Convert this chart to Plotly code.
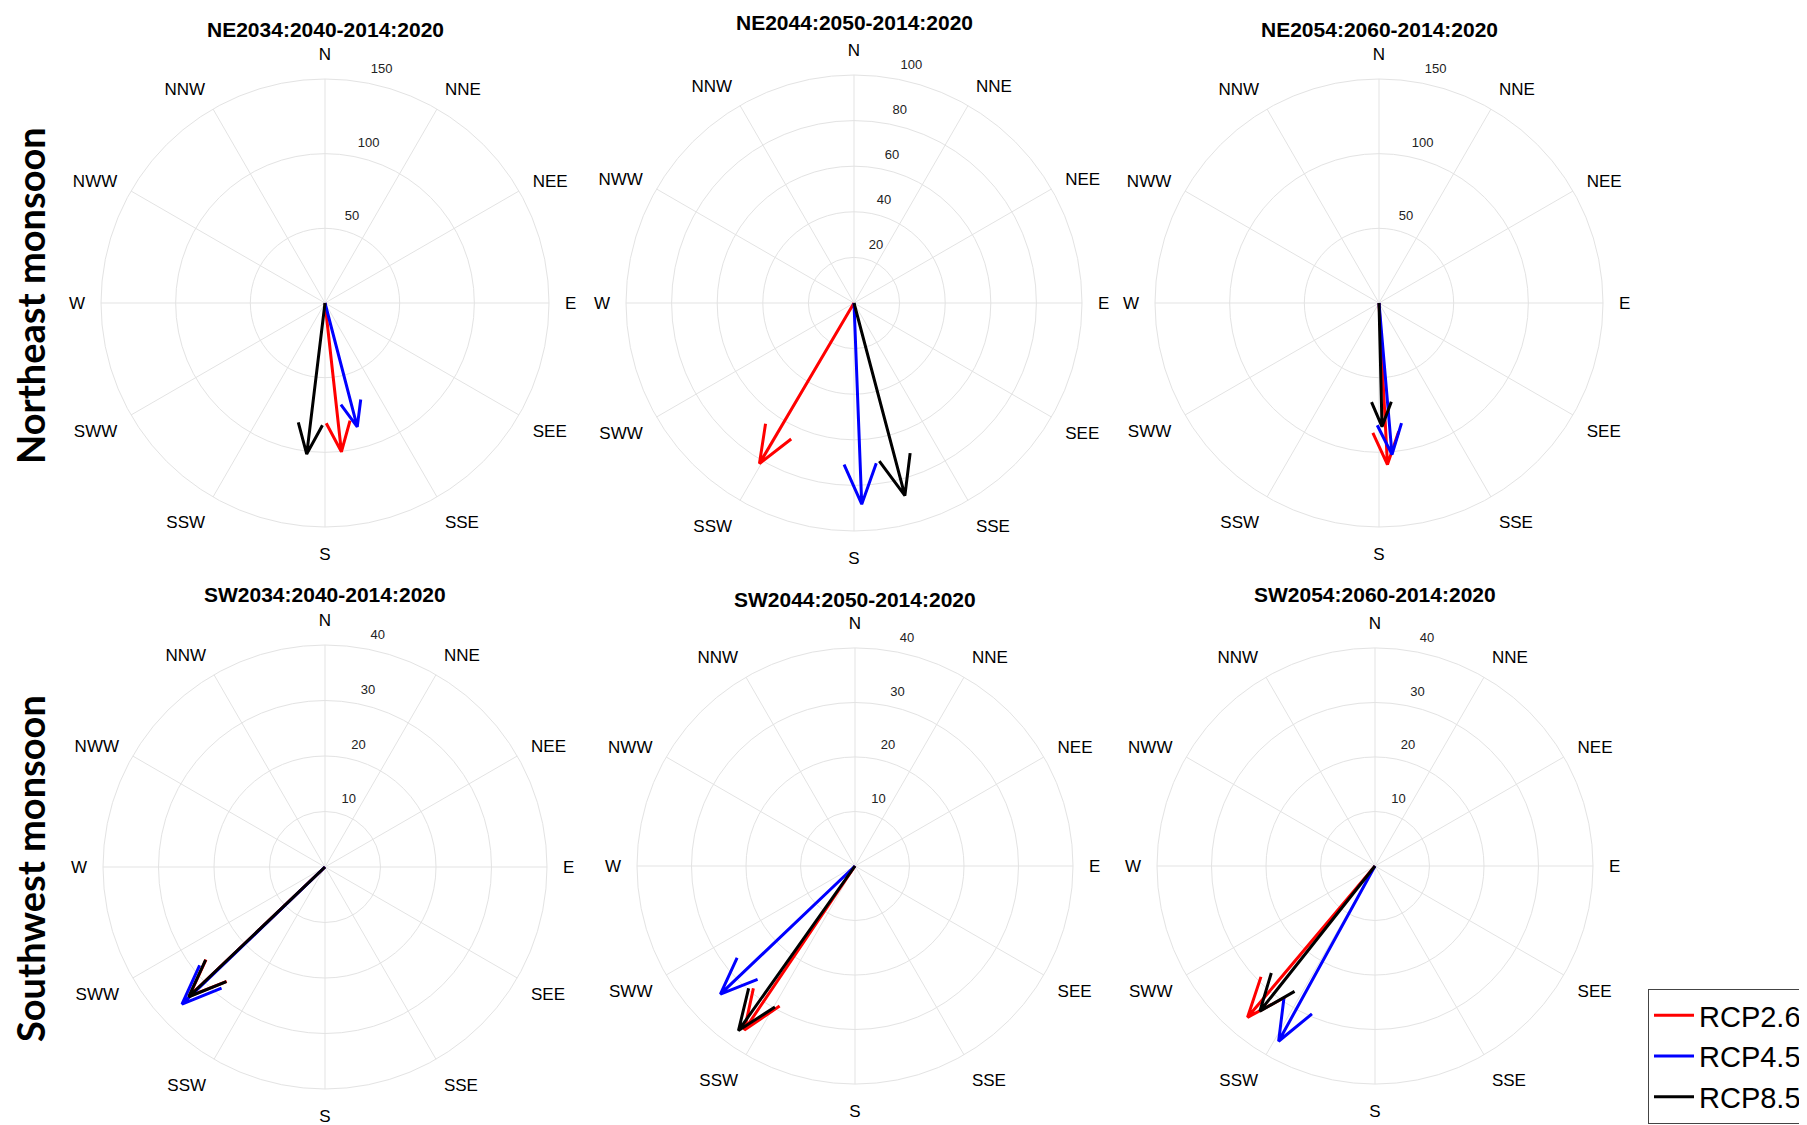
import numpy as np
import plotly.graph_objects as go

W, H = 1807, 1125

# ---- data (magnitude, bearing in degrees clockwise from N) ----
titles = ["NE2034:2040-2014:2020", "NE2044:2050-2014:2020", "NE2054:2060-2014:2020",
          "SW2034:2040-2014:2020", "SW2044:2050-2014:2020", "SW2054:2060-2014:2020"]
r_max = [150, 100, 150, 40, 40, 40]
r_ticks = [[50, 100, 150], [20, 40, 60, 80, 100], [50, 100, 150],
           [10, 20, 30, 40], [10, 20, 30, 40], [10, 20, 30, 40]]

directions = ["N", "NNE", "NEE", "E", "SEE", "SSE", "S", "SSW", "SWW", "W", "NWW", "NNW"]
dir_deg = [0, 30, 60, 90, 120, 150, 180, 210, 240, 270, 300, 330]

scenarios = ["RCP2.6", "RCP4.5", "RCP8.5"]
colors = ["#ff0000", "#0000ff", "#000000"]
rcp26_mag = [100.2, 81.7, 108.3, 33.8, 36.3, 36.3]
rcp26_dir = [173.7, 210.5, 177.0, 226.4, 214.0, 220.1]
rcp45_mag = [85.7, 88.3, 101.8, 35.7, 34.1, 36.7]
rcp45_dir = [165.4, 177.8, 175.1, 226.2, 226.4, 208.8]
rcp85_mag = [101.9, 87.4, 82.8, 33.9, 37.0, 34.0]
rcp85_dir = [186.9, 165.2, 178.6, 226.4, 215.3, 218.4]

mags = [rcp26_mag, rcp45_mag, rcp85_mag]
dirs = [rcp26_dir, rcp45_dir, rcp85_dir]

row_labels = ["Northeast monsoon", "Southwest monsoon"]

# panel placement (pixels from top-left) and radius
centers = [(317, 295), (846, 295), (1371, 295), (317, 859), (847, 858), (1367, 858)]
radii = [224, 228, 224, 222, 218, 218]
title_y = [21, 15, 21, 586, 591, 586]

FONT = "Liberation Sans, Arial, sans-serif"
RAD_ANGLE = 80


def arrow(mag, bearing):
    # compass-style arrow: shaft plus open head at 0.8 length, +-0.08 width
    z = mag * np.exp(1j * np.deg2rad(bearing))
    pts = np.array([0, 1, 0.8 + 0.08j, 1, 0.8 - 0.08j]) * z
    r = np.abs(pts)
    th = np.rad2deg(np.angle(pts)) % 360
    th[0] = bearing
    return r, th


fig = go.Figure()

for p in range(6):
    sub = "polar" if p == 0 else f"polar{p + 1}"
    for s in range(3):
        r, th = arrow(mags[s][p], dirs[s][p])
        fig.add_trace(go.Scatterpolar(
            r=r, theta=th, mode="lines", subplot=sub,
            line=dict(color=colors[s], width=3),
            name=scenarios[s], legendgroup=scenarios[s],
            showlegend=(p == 0), hoverinfo="skip"))

    cx, cy = centers[p]
    rad = radii[p]
    polar = dict(
        domain=dict(x=[(cx - rad) / W, (cx + rad) / W],
                    y=[1 - (cy + rad) / H, 1 - (cy - rad) / H]),
        bgcolor="white",
        radialaxis=dict(range=[0, r_max[p]], tickvals=r_ticks[p],
                        # trailing blank lines lift each label just above its ring
                        ticktext=[f"{v}<br> <br> " for v in r_ticks[p]],
                        showline=False,
                        ticks="", angle=RAD_ANGLE, side="clockwise", tickangle=RAD_ANGLE,
                        gridcolor="#e3e3e3", gridwidth=1,
                        tickfont=dict(family=FONT, size=13, color="#222")),
        angularaxis=dict(direction="clockwise", rotation=90,
                         tickvals=dir_deg, ticktext=directions,
                         showline=True, linecolor="#e3e3e3", linewidth=1,
                         gridcolor="#e3e3e3", gridwidth=1,
                         ticks="outside", ticklen=12, tickcolor="rgba(0,0,0,0)",
                         tickfont=dict(family=FONT, size=17, color="black")),
    )
    fig.update_layout(**{sub: polar})

    fig.add_annotation(text="<b>" + titles[p] + "</b>", x=cx / W, y=1 - title_y[p] / H,
                       xref="paper", yref="paper", showarrow=False,
                       xanchor="center", yanchor="middle",
                       font=dict(family=FONT, size=21, color="black"))

for i, lab in enumerate(row_labels):
    fig.add_annotation(text="<b>" + lab + "</b>", x=22 / W, y=1 - [288, 861][i] / H,
                       xref="paper", yref="paper", showarrow=False, textangle=-90,
                       xanchor="center", yanchor="middle",
                       font=dict(family="Lato, sans-serif", size=38, color="black"))

fig.update_layout(
    width=W, height=H,
    margin=dict(l=0, r=0, t=0, b=0),
    paper_bgcolor="white",
    showlegend=True,
    legend=dict(x=1799 / W, y=1 - 1116 / H, xanchor="right", yanchor="bottom",
                bordercolor="#444", borderwidth=1, bgcolor="white",
                font=dict(family=FONT, size=29, color="black"),
                itemwidth=40, tracegroupgap=0),
)

fig.write_html("out.html")
